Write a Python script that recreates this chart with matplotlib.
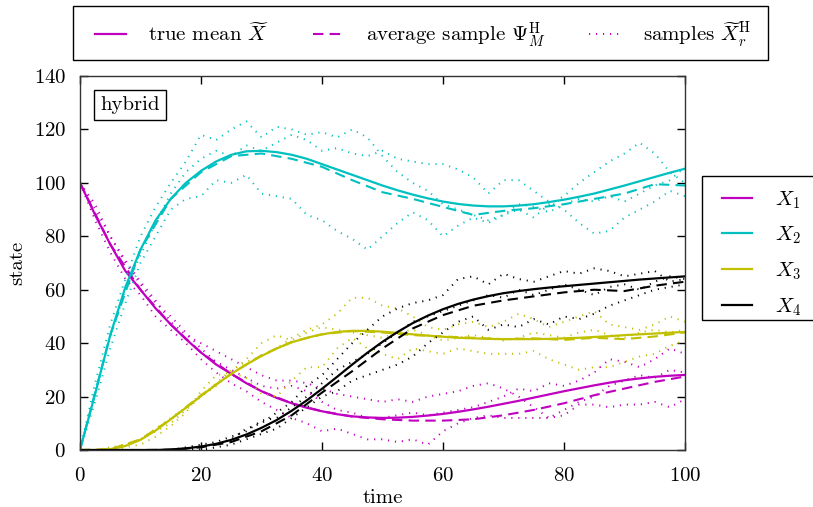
import numpy as np
import matplotlib
matplotlib.use("Agg")
import matplotlib.pyplot as plt
from matplotlib.lines import Line2D
from matplotlib.patches import Rectangle

plt.rcParams['font.family'] = ['cmr10', 'DejaVu Serif']
plt.rcParams['mathtext.fontset'] = 'cm'
plt.rcParams['axes.formatter.use_mathtext'] = True
plt.rcParams['font.size'] = 15

#-----data-----#
t_fine = np.arange(0, 100.01, 2.5)   # means and samples
t_avg = np.arange(0, 100.01, 5)      # average sample

species = ['$X_1$', '$X_2$', '$X_3$', '$X_4$']
colors = ['#c000c0', '#00c0c0', '#c0c000', '#000000']

mean_x1 = [100, 88, 77, 67, 60, 53, 47, 41.5, 36.5, 32, 28.5, 25, 22, 19.5, 17.5, 15.8, 14.5, 13.4, 12.6, 12.2,
           12, 12.1, 12.4, 12.9, 13.5, 14.3, 15.2, 16.2, 17.3, 18.4, 19.6, 20.8, 22, 23.1, 24.2, 25.2, 26.1,
           26.8, 27.4, 27.8, 28.1]
mean_x2 = [0, 21, 43, 61, 75, 86, 94, 100, 104.5, 108, 110.5, 111.8, 112, 111.5, 110.5, 109, 107, 105, 103, 101,
           99, 97.2, 95.6, 94.2, 93, 92.1, 91.5, 91.2, 91.2, 91.5, 92, 92.8, 93.7, 94.8, 96, 97.5, 99, 100.6,
           102.2, 103.8, 105.3]
mean_x3 = [0, 0, 0.3, 1.5, 3.8, 7.3, 11.5, 15.8, 20.2, 24.5, 28.5, 32, 35.2, 38, 40.3, 42, 43.3, 44.2, 44.6, 44.6,
           44.3, 43.8, 43.3, 42.8, 42.4, 42, 41.8, 41.6, 41.5, 41.5, 41.5, 41.6, 41.8, 42, 42.3, 42.6, 43, 43.3,
           43.6, 43.9, 44.2]
mean_x4 = [0, 0, 0, 0, 0, 0, 0.2, 0.6, 1.3, 2.3, 3.8, 5.8, 8.3, 11.2, 14.7, 18.6, 22.9, 27.4, 32, 36.4,
           40.5, 44.2, 47.5, 50.3, 52.7, 54.7, 56.3, 57.6, 58.7, 59.5, 60.2, 60.8, 61.3, 61.8, 62.3, 62.8, 63.3,
           63.8, 64.2, 64.6, 65]

avg_x1 = [100, 77, 60, 47, 36.5, 28.5, 22, 17.5, 14.5, 12.5, 11.5, 11, 11, 11.5, 13, 15, 17.5, 20.5, 23, 25.5, 27.5]
avg_x2 = [0, 43, 75, 94, 104, 110, 111, 109, 106, 101, 96.5, 94, 91, 88, 89.5, 90.5, 92, 94, 96, 99.5, 99]
avg_x3 = [0, 0.3, 4, 11.5, 20.5, 28.5, 35.5, 40.5, 43.3, 44.5, 44, 43, 42.5, 42, 41.5, 41.8, 41.2, 42, 41.5, 42.5, 44]
avg_x4 = [0, 0, 0, 0.1, 1, 3, 7, 13, 21.5, 29.5, 38, 45.5, 50.5, 54, 56, 57.5, 59, 60, 59.5, 61.5, 63]

samp_x1 = [
    [100, 90, 80, 70, 62, 55, 50, 44, 38, 33, 30, 27, 24, 23, 24, 22, 18, 15, 14, 12, 12, 13, 14, 13, 14, 15,
     16, 18, 20, 23, 22, 25, 24, 26, 29, 34, 33, 31, 34, 38, 36],
    [100, 92, 80, 71, 63, 56, 48, 43, 40, 37, 34, 31, 28, 26, 26, 25, 23, 21, 20, 19, 18, 19, 18, 20, 21, 22,
     24, 25, 23, 20, 16, 12, 13, 17, 17, 16, 17, 17, 18, 16, 19],
    [100, 86, 74, 64, 58, 50, 45, 40, 34, 29, 25, 22, 18, 15, 12, 10, 7, 8, 6, 4, 4, 3, 4, 2, 7, 10, 12, 13,
     12, 12, 12, 12, 15, 18, 20, 24, 26, 28, 27, 30, 29],
]
samp_x2 = [
    [0, 25, 47, 64, 80, 91, 100, 108, 118, 116, 120, 123, 117, 121, 120, 118, 119, 117, 120, 117, 110, 104,
     100, 97, 92, 90, 88, 86, 88, 90, 87, 92, 95, 100, 104, 108, 111, 115, 111, 104, 100],
    [0, 18, 38, 55, 70, 80, 90, 94, 95, 101, 100, 103, 96, 95, 94, 88, 86, 82, 79, 75, 80, 85, 89, 86, 80, 84,
     87, 85, 88, 92, 91, 89, 92, 94, 93, 95, 93, 96, 99, 101, 106],
    [0, 22, 42, 60, 73, 85, 96, 104, 109, 112, 110, 114, 112, 115, 118, 116, 112, 113, 111, 110, 112, 109, 108,
     107, 107, 105, 102, 96, 101, 101, 97, 93, 90, 85, 81, 82, 87, 90, 93, 97, 95],
]
samp_x3 = [
    [0, 0, 1, 2, 4, 7, 10, 15, 20, 25, 30, 33, 35, 38, 42, 45, 47, 51, 57, 57, 54, 53, 50, 46, 45, 47, 48, 46,
     48, 51, 49, 46, 48, 50, 52, 47, 46, 45, 47, 50, 48],
    [0, 0, 0, 1, 2, 5, 9, 14, 22, 28, 29, 27, 21, 20, 26, 31, 31, 38, 42, 38, 36, 34, 38, 37, 36, 38, 37, 36,
     36, 36, 37, 34, 32, 30, 31, 31, 33, 35, 36, 39, 41],
    [0, 0, 0, 2, 4, 8, 12, 16, 20, 24, 29, 34, 40, 43, 41, 44, 46, 45, 44, 43, 42, 44, 45, 43, 41, 42, 43, 42,
     41, 42, 44, 43, 42, 44, 45, 43, 42, 44, 45, 44, 45],
]
samp_x4 = [
    [0, 0, 0, 0, 0, 0, 0, 0, 1, 2, 4, 8, 10, 14, 18, 24, 28, 34, 40, 45, 50, 53, 55, 56, 58, 64, 65, 62, 66, 64,
     63, 65, 67, 66, 68, 67, 65, 66, 67, 63, 64],
    [0, 0, 0, 0, 0, 0, 0, 0, 0, 1, 2, 4, 6, 8, 12, 16, 20, 22, 26, 28, 30, 32, 35, 40, 44, 48, 50, 45, 47, 46,
     49, 47, 50, 49, 51, 54, 56, 58, 60, 61, 62],
    [0, 0, 0, 0, 0, 0, 0, 1, 2, 3, 5, 7, 11, 12, 16, 20, 25, 30, 33, 36, 40, 44, 48, 50, 52, 54, 56, 58, 57, 60,
     58, 60, 62, 60, 58, 61, 62, 60, 63, 65, 64],
]

means = [mean_x1, mean_x2, mean_x3, mean_x4]
avgs = [avg_x1, avg_x2, avg_x3, avg_x4]
samples = [samp_x1, samp_x2, samp_x3, samp_x4]
#-----data-----#

W, H = 813, 507
fig = plt.figure(figsize=(W/100, H/100), dpi=100)
ax = fig.add_axes([80/W, 1-450/H, 605/W, 374/H])

dot = (0, (0.6, 3.0))
dash = (0, (5, 3))
for c, m, a, ss in zip(colors, means, avgs, samples):
    for s in ss:
        ax.plot(t_fine, s, color=c, lw=1.4, linestyle=dot)
    ax.plot(t_avg, a, color=c, lw=1.5, linestyle=dash)
    ax.plot(t_fine, m, color=c, lw=1.6)

ax.set_xlim(0, 100)
ax.set_ylim(0, 140)
ax.set_xticks(np.arange(0, 101, 20))
ax.set_yticks(np.arange(0, 141, 20))
ax.tick_params(direction='in', top=True, right=True, length=6, width=1, labelsize=15)
ax.tick_params(axis='x', pad=12)
ax.tick_params(axis='y', pad=10)
for sp in ax.spines.values():
    sp.set_linewidth(1.0)
    sp.set_color('#333333')
ax.set_xlabel('time', fontsize=15, labelpad=3)
ax.set_ylabel('state', fontsize=15, labelpad=5)

ax.text(0.033, 0.922, 'hybrid', transform=ax.transAxes, fontsize=15, va='center', ha='left',
        bbox=dict(boxstyle='square,pad=0.3', fc='white', ec='black', lw=1))

# top legend (frame drawn separately)
top_handles = [Line2D([], [], color=colors[0], lw=1.6),
               Line2D([], [], color=colors[0], lw=1.5, linestyle=dash),
               Line2D([], [], color=colors[0], lw=1.4, linestyle=dot)]
top_labels = [r'true mean $\widetilde{X}$', r'average sample $\Psi_M^{\mathrm{H}}$',
              r'samples $\widetilde{X}_r^{\mathrm{H}}$']
fig.legend(top_handles, top_labels, loc='center left', ncol=3, bbox_to_anchor=(95/W, 1-35/H),
           frameon=False, handlelength=1.5, handletextpad=1.05, columnspacing=2.1, fontsize=15,
           borderpad=0, borderaxespad=0)
fig.add_artist(Rectangle((73/W, 1-60/H), 695/W, 54/H, transform=fig.transFigure,
                         fill=False, ec='black', lw=1.0))

# species legend
sp_handles = [Line2D([], [], color=c, lw=1.6) for c in colors]
fig.legend(sp_handles, species, loc='upper left', bbox_to_anchor=(722/W, 1-189/H),
           frameon=False, handlelength=1.45, handletextpad=1.1,
           labelspacing=0.68, fontsize=15, borderpad=0, borderaxespad=0)
fig.add_artist(Rectangle((702/W, 1-320/H), 112/W, 144/H, transform=fig.transFigure,
                         fill=False, ec='black', lw=1.0))

fig.savefig('out.png', dpi=100)
